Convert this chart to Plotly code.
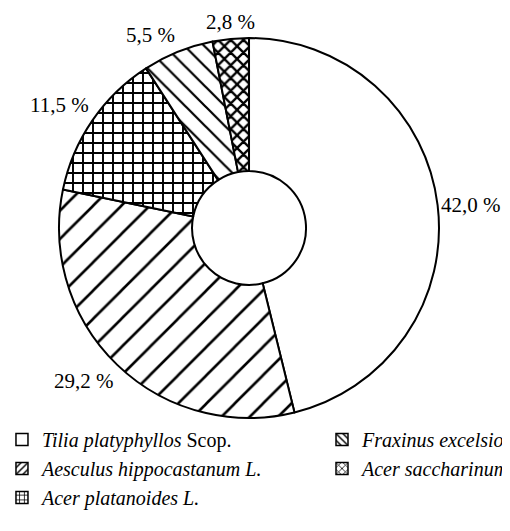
import math
import plotly.graph_objects as go

species = [
    "<i>Tilia platyphyllos</i> Scop.",
    "<i>Aesculus hippocastanum L.</i>",
    "<i>Acer platanoides L.</i>",
    "<i>Fraxinus excelsior L.</i>",
    "<i>Acer saccharinum L.</i>",
]
shares = [42.0, 29.2, 11.5, 5.5, 2.8]
share_labels = ["42,0 %", "29,2 %", "11,5 %", "5,5 %", "2,8 %"]
patterns = ["", "/", "+", "\\", "x"]
pattern_sizes = [8, 20, 10, 14, 9]
pattern_solidity = [0.2, 0.13, 0.35, 0.16, 0.45]
legend_groups = ["legend", "legend", "legend", "legend2", "legend2"]

FONT = "Liberation Serif"
W, H = 502, 523
DOM_X = [0.1016, 0.8586]
DOM_Y = [0.2161, 0.9426]

fig = go.Figure()

fig.add_trace(go.Pie(
    labels=species,
    values=shares,
    sort=False,
    direction="clockwise",
    rotation=0,
    hole=0.30,
    textinfo="none",
    marker=dict(
        colors=["white"] * len(shares),
        line=dict(color="black", width=2),
        pattern=dict(shape=patterns, size=pattern_sizes, solidity=pattern_solidity,
                     fgcolor="black", fgopacity=1, bgcolor="white", fillmode="overlay"),
    ),
    domain=dict(x=DOM_X, y=DOM_Y),
    showlegend=False,
))

# percentage labels placed just outside each slice's mid-angle
cx = (DOM_X[0] + DOM_X[1]) / 2 * W
cy = (DOM_Y[0] + DOM_Y[1]) / 2 * H
r_px = min((DOM_X[1] - DOM_X[0]) * W, (DOM_Y[1] - DOM_Y[0]) * H) / 2
total = sum(shares)
annotations = []
cum = 0.0
for v, txt in zip(shares, share_labels):
    mid = (cum + v / 2) / total * 2 * math.pi
    cum += v
    s, c = math.sin(mid), math.cos(mid)
    px = cx + 1.01 * r_px * s
    py = cy + 1.015 * r_px * c
    xa = "left" if s > 0.3 else ("right" if s < -0.3 else "center")
    ya = "bottom" if c > 0.3 else ("top" if c < -0.3 else "middle")
    annotations.append(dict(text=txt, xref="paper", yref="paper", x=px / W, y=py / H,
                            xanchor=xa, yanchor=ya, showarrow=False,
                            font=dict(family=FONT, size=21, color="black")))

for i in range(len(species)):
    fig.add_trace(go.Bar(
        x=[None], y=[None], name=species[i], showlegend=True, legend=legend_groups[i],
        marker=dict(color="white", line=dict(color="black", width=1.5),
                    pattern=dict(shape=patterns[i], size=6, solidity=0.3,
                                 fgcolor="black", fgopacity=1, bgcolor="white")),
    ))

legend_style = dict(orientation="v", yanchor="top", xanchor="left",
                    font=dict(family=FONT, size=20, color="black"),
                    bgcolor="rgba(0,0,0,0)", tracegroupgap=0)

fig.update_layout(
    width=W, height=H,
    margin=dict(l=0, r=0, t=0, b=0, autoexpand=False),
    paper_bgcolor="white", plot_bgcolor="white",
    xaxis=dict(visible=False), yaxis=dict(visible=False),
    font=dict(family=FONT, size=20, color="black"),
    legend=dict(x=-0.012, y=0.2122, **legend_style),
    legend2=dict(x=0.6255, y=0.2122, **legend_style),
    annotations=annotations,
)

fig.write_html("out.html")
